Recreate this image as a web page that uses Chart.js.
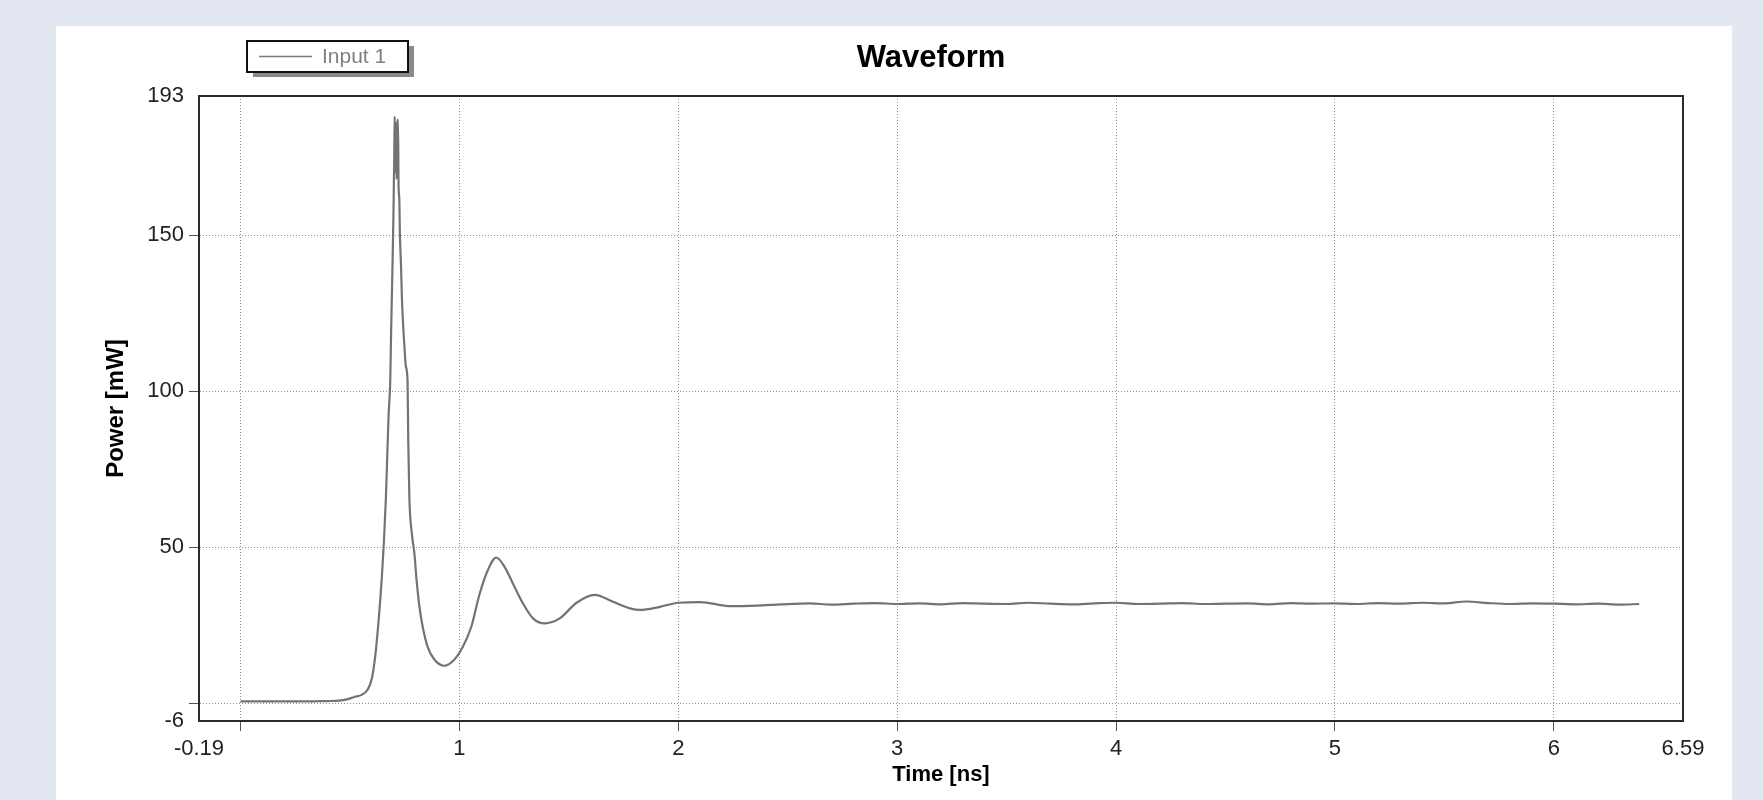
<!DOCTYPE html>
<html>
<head>
<meta charset="utf-8">
<title>Waveform</title>
<script src="https://cdn.jsdelivr.net/npm/chart.js@4.4.1/dist/chart.umd.min.js"></script>
<style>
    body { margin: 0; background: #e3e7f1; overflow: hidden; }
    #panel { position: absolute; left: 56px; top: 26px; width: 1676px; height: 774px; background: #fff; }
</style>
</head>
<body>
<div id="panel"><canvas id="waveChart"></canvas></div>
<script>
// Waveform samples (time in ns, power in mW)
const timeNs = [
    0.00, 0.10, 0.20, 0.30, 0.40, 0.45, 0.49, 0.52, 0.55, 0.58,
    0.600, 0.615, 0.630, 0.645, 0.655, 0.664, 0.676, 0.684, 0.688, 0.694,
    0.698, 0.702, 0.704, 0.707, 0.710, 0.713, 0.716, 0.719, 0.722, 0.725,
    0.728, 0.733, 0.737, 0.742, 0.748, 0.755, 0.763, 0.766, 0.771, 0.783,
    0.794, 0.804, 0.817, 0.832, 0.855, 0.885, 0.931, 0.977, 1.015, 1.054,
    1.092, 1.130, 1.168, 1.206, 1.244, 1.290, 1.336, 1.389, 1.458, 1.535,
    1.618, 1.702, 1.779, 1.825, 1.916, 2.00, 2.10, 2.24, 2.36, 2.47,
    2.6, 2.7, 2.8, 2.9, 3.0, 3.1, 3.2, 3.3, 3.4, 3.5,
    3.6, 3.7, 3.8, 3.9, 4.0, 4.1, 4.2, 4.3, 4.4, 4.5,
    4.6, 4.7, 4.8, 4.9, 5.0, 5.1, 5.2, 5.3, 5.4, 5.5,
    5.6, 5.7, 5.8, 5.9, 6.0, 6.1, 6.2, 6.3, 6.39
];
const powerMw = [
    0.6, 0.6, 0.6, 0.6, 0.7, 0.8, 1.3, 2.0, 2.6, 4.3,
    8.0, 15, 26, 40, 52, 66, 92, 104, 120, 140,
    155, 175, 188, 170, 186, 168, 184, 187, 165, 162,
    150, 140, 130, 122, 115, 108, 103, 84, 66, 54,
    48, 39.5, 31, 24.5, 18, 14, 12, 14, 18, 24.5,
    35, 42.7, 46.7, 43.7, 38.4, 32, 27.2, 25.6, 27.2, 32.2,
    34.7, 32.5, 30.4, 29.9, 30.9, 32.2, 32.4, 31.1, 31.3, 31.7,
    32.0, 31.6, 31.9, 32.1, 31.8, 32.0, 31.7, 32.1, 31.9, 31.8,
    32.2, 31.9, 31.7, 32.0, 32.2, 31.8, 31.9, 32.1, 31.8, 31.9,
    32.0, 31.7, 32.1, 31.9, 32.0, 31.8, 32.1, 31.9, 32.2, 32.0,
    32.6, 32.1, 31.8, 32.0, 31.9, 31.7, 31.9, 31.6, 31.8
];

const seriesName = "Input 1";
const chartTitle = "Waveform";
const xMin = -0.19, xMax = 6.59;
const yMin = -5.7, yMax = 194.6;
const xTicks = [xMin, 0, 1, 2, 3, 4, 5, 6, xMax];
const xTickLabels = ["-0.19", "", "1", "2", "3", "4", "5", "6", "6.59"];
const yTicks = [yMin, 0, 50, 100, 150, yMax];
const yTickLabels = ["-6", "", "50", "100", "150", "193"];

const FONT = '"Liberation Sans", Arial, sans-serif';

// plot frame, title and the boxed legend with its shadow
const framePlugin = {
    id: 'frame',
    afterDraw(chart) {
        const ctx = chart.ctx;
        const a = chart.chartArea;
        ctx.save();
        ctx.setLineDash([]);
        ctx.strokeStyle = '#2b2b2b';
        ctx.lineWidth = 2;
        ctx.strokeRect(a.left, a.top, a.right - a.left, a.bottom - a.top);

        ctx.fillStyle = '#000';
        ctx.font = 'bold 31px ' + FONT;
        ctx.textAlign = 'center';
        ctx.textBaseline = 'middle';
        ctx.fillText(chartTitle, 875, 32);

        // legend
        ctx.fillStyle = '#8a8a8a';
        ctx.fillRect(197, 20, 161, 31);
        ctx.fillStyle = '#fff';
        ctx.fillRect(191, 15, 161, 31);
        ctx.strokeStyle = '#111';
        ctx.lineWidth = 2;
        ctx.strokeRect(191, 15, 161, 31);
        ctx.strokeStyle = '#7a7a7a';
        ctx.lineWidth = 1.5;
        ctx.beginPath();
        ctx.moveTo(203, 30.5);
        ctx.lineTo(256, 30.5);
        ctx.stroke();
        ctx.fillStyle = '#808080';
        ctx.font = '21px ' + FONT;
        ctx.textAlign = 'left';
        ctx.fillText(seriesName, 266, 31);
        ctx.restore();
    }
};

document.addEventListener("DOMContentLoaded", function () {
    const ctx = document.getElementById("waveChart").getContext("2d");
    const points = timeNs.map((t, i) => ({ x: t, y: powerMw[i] }));

    const edge = (min, max) => c => (c.tick && (c.tick.value === min || c.tick.value === max));
    const xEdge = edge(xMin, xMax);
    const yEdge = edge(yMin, yMax);

    new Chart(ctx, {
        type: 'scatter',
        data: {
            datasets: [{
                label: seriesName,
                data: points,
                showLine: true,
                borderColor: '#737373',
                borderWidth: 2.2,
                pointRadius: 0,
                cubicInterpolationMode: 'monotone'
            }]
        },
        options: {
            responsive: true,
            maintainAspectRatio: false,
            animation: false,
            layout: { padding: { top: 70, right: 49, left: 0, bottom: 0 } },
            plugins: {
                legend: { display: false },
                title: { display: false },
                tooltip: { enabled: false }
            },
            scales: {
                x: {
                    type: 'linear',
                    min: xMin,
                    max: xMax,
                    afterBuildTicks: s => { s.ticks = xTicks.map(v => ({ value: v })); },
                    afterFit: s => { s.height = 79; },
                    border: { color: '#2b2b2b', width: 2, dash: [1, 2] },
                    grid: {
                        color: c => xEdge(c) ? 'rgba(0,0,0,0)' : '#8f8f8f',
                        tickColor: c => xEdge(c) ? 'rgba(0,0,0,0)' : '#555',
                        tickBorderDash: [],
                        tickLength: 10,
                        lineWidth: 1
                    },
                    ticks: {
                        autoSkip: false,
                        maxRotation: 0,
                        padding: 5,
                        color: '#222',
                        font: { family: FONT, size: 22 },
                        callback: (v, i) => xTickLabels[i]
                    },
                    title: {
                        display: true,
                        text: 'Time [ns]',
                        color: '#000',
                        font: { family: FONT, size: 22, weight: 'bold' },
                        padding: { top: 0, bottom: 12 }
                    }
                },
                y: {
                    type: 'linear',
                    min: yMin,
                    max: yMax,
                    afterBuildTicks: s => { s.ticks = yTicks.map(v => ({ value: v })); },
                    afterFit: s => { s.width = 143; },
                    border: { color: '#2b2b2b', width: 2, dash: [1, 2] },
                    grid: {
                        color: c => yEdge(c) ? 'rgba(0,0,0,0)' : '#8f8f8f',
                        tickColor: c => yEdge(c) ? 'rgba(0,0,0,0)' : '#555',
                        tickBorderDash: [],
                        tickLength: 10,
                        lineWidth: 1
                    },
                    ticks: {
                        autoSkip: false,
                        padding: 5,
                        color: '#222',
                        font: { family: FONT, size: 22 },
                        callback: (v, i) => yTickLabels[i]
                    },
                    title: {
                        display: true,
                        text: 'Power [mW]',
                        color: '#000',
                        font: { family: FONT, size: 24, weight: 'bold' },
                        padding: { top: 46, bottom: 0 }
                    }
                }
            }
        },
        plugins: [framePlugin]
    });
});
</script>
</body>
</html>
